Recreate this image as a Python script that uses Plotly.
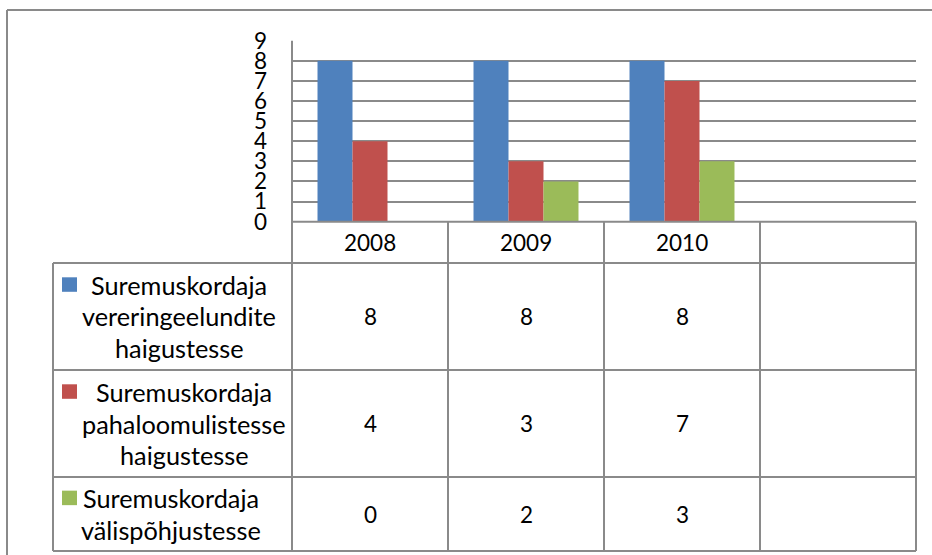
import plotly.graph_objects as go

years = ["2008", "2009", "2010"]
series_lines = [
    ["Suremuskordaja", "vereringeelundite", "haigustesse"],
    ["Suremuskordaja", "pahaloomulistesse", "haigustesse"],
    ["Suremuskordaja", "välispõhjustesse"],
]
veresoon = [8, 8, 8]
pahaloomuline = [4, 3, 7]
valispohjus = [0, 2, 3]
colors = ["#4F81BD", "#C0504D", "#9BBB59"]
y_ticks = list(range(0, 10))

W, H = 932, 555
FONT = "Lato"
FS_TXT = 25.3
FS_NUM = 22.5
GRID = "#8a8a8a"


def px(x):
    return x / W


def py(y):
    return 1 - y / H


# layout geometry (pixels)
X_LEG = 53
X_COLS = [292, 448, 604, 760, 916]
Y_TOP = 40.7
Y_AX = 221.7
Y_ROWS = [263, 370, 477, 551]
LABEL_CX = [179, 184, 171]
LINE_H = 31.7

values = [veresoon, pahaloomuline, valispohjus]

fig = go.Figure()
for lines, vals, c in zip(series_lines, values, colors):
    fig.add_trace(go.Bar(x=years, y=vals, name=" ".join(lines),
                         marker=dict(color=c, line=dict(width=0)),
                         showlegend=False))

shapes = []
line = dict(color=GRID, width=2)
# outer chart border (partially visible)
shapes.append(dict(type="line", xref="paper", yref="paper", x0=px(7), x1=1, y0=py(10), y1=py(10), line=line))
shapes.append(dict(type="line", xref="paper", yref="paper", x0=px(7), x1=px(7), y0=py(10), y1=0, line=line))
# plot-area left edge extended down through table
shapes.append(dict(type="line", xref="paper", yref="paper", x0=px(X_COLS[0]), x1=px(X_COLS[0]), y0=py(Y_TOP), y1=py(Y_ROWS[-1]), line=line))
# table vertical lines
for xc in X_COLS[1:]:
    shapes.append(dict(type="line", xref="paper", yref="paper", x0=px(xc), x1=px(xc), y0=py(Y_AX), y1=py(Y_ROWS[-1]), line=line))
shapes.append(dict(type="line", xref="paper", yref="paper", x0=px(X_LEG), x1=px(X_LEG), y0=py(Y_ROWS[0]), y1=py(Y_ROWS[-1]), line=line))
# table horizontal lines
shapes.append(dict(type="line", xref="paper", yref="paper", x0=px(X_COLS[0]), x1=px(X_COLS[-1]), y0=py(Y_AX), y1=py(Y_AX), line=line))
for yr in Y_ROWS:
    shapes.append(dict(type="line", xref="paper", yref="paper", x0=px(X_LEG), x1=px(X_COLS[-1]), y0=py(yr), y1=py(yr), line=line))

annotations = []
font_txt = dict(family=FONT, size=FS_TXT, color="#000000")
font_num = dict(family=FONT, size=FS_NUM, color="#000000")
# header
for i, yv in enumerate(years):
    xc = (X_COLS[i] + X_COLS[i + 1]) / 2
    annotations.append(dict(xref="paper", yref="paper", x=px(xc), y=py((Y_AX + Y_ROWS[0]) / 2),
                            text=yv, showarrow=False, xanchor="center", yanchor="middle", font=font_num))
# rows
for r, (lines, vals, c) in enumerate(zip(series_lines, values, colors)):
    y0, y1 = Y_ROWS[r], Y_ROWS[r + 1]
    yc = (y0 + y1) / 2
    first_line = yc - (len(lines) - 1) * LINE_H / 2
    # legend key square
    shapes.append(dict(type="rect", xref="paper", yref="paper",
                       x0=px(62), x1=px(77), y0=py(first_line - 7.5), y1=py(first_line + 7),
                       fillcolor=c, line=dict(width=0)))
    for k, t in enumerate(lines):
        annotations.append(dict(xref="paper", yref="paper", x=px(LABEL_CX[r]), y=py(first_line + k * LINE_H),
                                text=t, showarrow=False, xanchor="center", yanchor="middle", font=font_txt))
    for i, v in enumerate(vals):
        xc = (X_COLS[i] + X_COLS[i + 1]) / 2
        annotations.append(dict(xref="paper", yref="paper", x=px(xc), y=py(yc), text=str(v),
                                showarrow=False, xanchor="center", yanchor="middle", font=font_num))

fig.update_layout(
    width=W, height=H,
    margin=dict(l=0, r=0, t=0, b=0, pad=0),
    paper_bgcolor="white", plot_bgcolor="white",
    barmode="group", bargap=0.327, bargroupgap=0,
    font=dict(family=FONT, size=FS_NUM, color="#000000"),
    xaxis=dict(domain=[px(X_COLS[0]), px(X_COLS[-1])], type="category",
               range=[-0.5, 3.5], showticklabels=False, showgrid=False,
               zeroline=False, showline=False, ticks="", automargin=False),
    yaxis=dict(domain=[py(Y_AX), py(Y_TOP)], range=[0, 9], tickvals=y_ticks,
               showgrid=True, gridcolor=GRID, gridwidth=2, zeroline=False,
               showline=False, ticks="", ticklabelstandoff=24, automargin=False,
               tickfont=dict(family=FONT, size=FS_NUM, color="#000000")),
    shapes=shapes,
    annotations=annotations,
)

fig.write_html("out.html", config={"displayModeBar": False},
               post_script="document.body.style.margin='0px';document.body.style.overflow='hidden';")
